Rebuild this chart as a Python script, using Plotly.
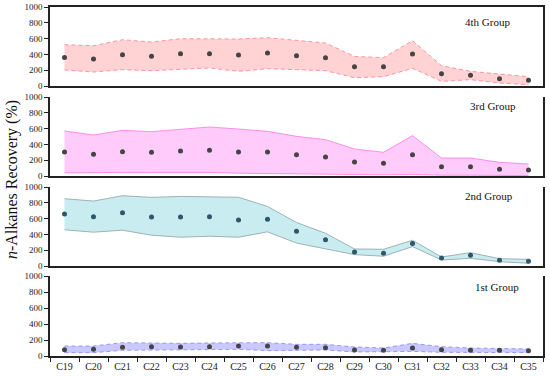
import plotly.graph_objects as go

categories = ["C19", "C20", "C21", "C22", "C23", "C24", "C25", "C26", "C27",
              "C28", "C29", "C30", "C31", "C32", "C33", "C34", "C35"]

# 4th Group
g4_mean = [360, 342, 397, 376, 409, 409, 392, 418, 384, 359, 245, 245, 405, 156, 135, 93, 72]
g4_upper = [523, 510, 586, 557, 599, 595, 595, 612, 574, 544, 375, 359, 574, 257, 186, 156, 118]
g4_lower = [203, 177, 207, 194, 211, 228, 186, 219, 207, 194, 105, 118, 224, 59, 80, 38, 17]

# 3rd Group
g3_mean = [304, 274, 308, 300, 316, 325, 304, 304, 270, 241, 177, 160, 270, 118, 118, 84, 76]
g3_upper = [570, 519, 578, 561, 591, 620, 595, 565, 502, 460, 342, 300, 511, 228, 228, 173, 152]
g3_lower = [40, 45, 45, 45, 45, 45, 35, 30, 25, 20, 15, 15, 20, 10, 10, 5, 5]

# 2nd Group
g2_mean = [657, 623, 674, 619, 619, 623, 581, 593, 441, 331, 178, 161, 284, 102, 136, 72, 59]
g2_upper = [852, 822, 890, 869, 881, 873, 870, 754, 551, 415, 216, 212, 326, 114, 169, 93, 85]
g2_lower = [458, 428, 453, 390, 364, 377, 364, 432, 290, 220, 144, 123, 246, 76, 97, 55, 34]

# 1st Group
g1_mean = [79, 83, 108, 117, 113, 117, 125, 125, 108, 104, 75, 71, 100, 79, 71, 71, 67]
g1_upper = [125, 125, 167, 158, 158, 163, 163, 167, 146, 146, 113, 100, 158, 117, 100, 92, 88]
g1_lower = [42, 42, 71, 75, 75, 83, 83, 67, 71, 75, 50, 50, 58, 46, 46, 50, 42]

y_ticks = [0, 200, 400, 600, 800, 1000]
group_labels = ["4th Group", "3rd Group", "2nd Group", "1st Group"]

W, H = 550, 376
FONT = "Liberation Serif"


def px(x):
    return x / W


def py(y):
    return 1 - y / H


panels = [
    (g4_mean, g4_upper, g4_lower, "#ffd2d4", "#ff7f8c", "4px,3px", "#444444", (7, 86)),
    (g3_mean, g3_upper, g3_lower, "#ffcbfb", "#ff77e4", "solid", "#444444", (97, 176)),
    (g2_mean, g2_upper, g2_lower, "#c8ecef", "#8aa2a6", "solid", "#2d566a", (187, 266)),
    (g1_mean, g1_upper, g1_lower, "#c9c9ff", "#8585f0", "4px,3px", "#444444", (276, 356)),
]

fig = go.Figure()
layout = dict(
    width=W, height=H, autosize=False,
    margin=dict(l=0, r=0, t=0, b=0),
    paper_bgcolor="white", plot_bgcolor="white",
    showlegend=False,
    font=dict(family=FONT, color="#111111"),
)

xdom = [px(50), px(543)]
annotations = []
for i, (mean, up, lo, fill, edge, dash, mcol, (ytop, ybot)) in enumerate(panels):
    n = i + 1
    xa = "x" if n == 1 else f"x{n}"
    ya = "y" if n == 1 else f"y{n}"
    fig.add_trace(go.Scatter(x=categories, y=lo, mode="lines", xaxis=xa, yaxis=ya,
                             line=dict(color=edge, width=0.8, dash=dash), hoverinfo="skip"))
    fig.add_trace(go.Scatter(x=categories, y=up, mode="lines", xaxis=xa, yaxis=ya,
                             fill="tonexty", fillcolor=fill,
                             line=dict(color=edge, width=0.8, dash=dash), hoverinfo="skip"))
    fig.add_trace(go.Scatter(x=categories, y=mean, mode="markers", xaxis=xa, yaxis=ya,
                             marker=dict(color=mcol, size=5)))
    dom = [py(ybot), py(ytop)]
    last = (n == 4)
    xkey = "xaxis" if n == 1 else f"xaxis{n}"
    ykey = "yaxis" if n == 1 else f"yaxis{n}"
    layout[xkey] = dict(
        domain=xdom, anchor=ya, type="category", categoryorder="array",
        categoryarray=categories, range=[-0.5, 16.5], automargin=False,
        showline=True, linecolor="#222222", linewidth=1.5,
        mirror=(n == 1),
        showgrid=False, zeroline=False,
        showticklabels=last, ticks="outside" if last else "",
        tickson="boundaries", ticklen=4, tickcolor="#222222", tickwidth=1,
        tickfont=dict(family=FONT, size=10, color="#222222"),
    )
    layout[ykey] = dict(
        domain=dom, anchor=xa, range=[0, 1000], automargin=False,
        tickvals=y_ticks, ticktext=[str(v) for v in y_ticks],
        showline=True, linecolor="#222222", linewidth=1.5, mirror=True,
        showgrid=False, zeroline=False,
        ticks="outside", ticklen=4, tickcolor="#222222", tickwidth=1,
        tickfont=dict(family=FONT, size=9, color="#222222"),
    )

label_pos = [(487, 22), (493, 106), (489, 196), (497, 287)]
for lab, (lx, ly) in zip(group_labels, label_pos):
    annotations.append(dict(text=lab, x=px(lx), y=py(ly), xref="paper", yref="paper",
                            xanchor="center", yanchor="middle", showarrow=False,
                            font=dict(family=FONT, size=11, color="#111111")))

annotations.append(dict(text="<i>n</i>-Alkanes Recovery (%)", x=px(12), y=py(180),
                        xref="paper", yref="paper", xanchor="center", yanchor="middle",
                        textangle=-90, showarrow=False,
                        font=dict(family=FONT, size=16, color="#111111")))
layout["annotations"] = annotations
fig.update_layout(**layout)
fig.write_html("out.html", config={"displayModeBar": False},
               post_script="document.body.style.margin='0';document.body.style.overflow='hidden';")
